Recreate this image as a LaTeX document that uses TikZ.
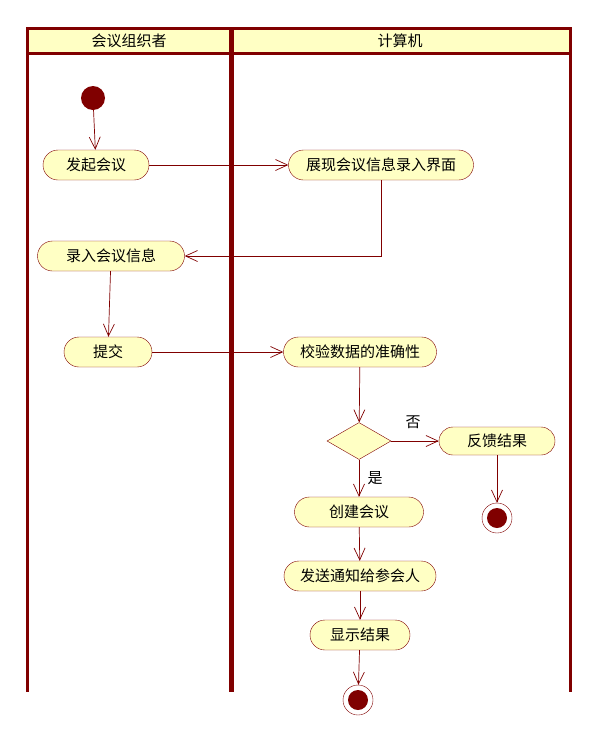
\documentclass[tikz,border=0pt]{standalone}
\usepackage{fontspec}
\setmainfont{Noto Sans CJK SC}
\usetikzlibrary{arrows.meta}
\usetikzlibrary{positioning}
\usetikzlibrary{shapes.geometric}
\definecolor{lane}{RGB}{128,0,0}
\definecolor{actfill}{RGB}{255,255,196}

\begin{document}
\begin{tikzpicture}
			[x=1pt,y=-1pt,font=\fontsize{15}{17}\selectfont,
			act/.style={draw=lane,fill=actfill,rounded corners=15pt,minimum height=30pt,inner sep=0pt},
			pd/.style={diamond,draw=lane,fill=actfill,minimum width=64pt,minimum height=37pt,inner sep=0pt},
			startnode/.style={circle,fill=lane,minimum size=24pt,inner sep=0pt},
			endnode/.style={circle,draw=lane,fill=white,minimum size=30pt,inner sep=0pt,
				path picture={\fill[lane] (path picture bounding box.center) circle (10pt);}},
			flow/.style={draw=lane,line width=0.7pt,-{Straight Barb[length=12pt,width=11pt]}},
			lanewall/.style={draw=lane,line width=3pt},
			laneinner/.style={draw=lane,line width=5pt}]
			\useasboundingbox (0,0) rectangle (599,745);
			
			% swimlanes
			\fill[actfill] (27,28) rectangle (570,53);
			\draw[lanewall] (27,28) -- (570,28);
			\draw[lanewall] (27,53) -- (570,53);
			\draw[lanewall] (27,27) -- (27,692);
			\draw[lanewall] (570,27) -- (570,692);
			\draw[laneinner] (231,27) -- (231,692);
			\node (h1) at (129,41) {会议组织者};
			\node (h2) at (400,41) {计算机};
			
			\node[startnode] (start) at (93,98) {};
			\node[act,minimum width=106pt] (faqi) at (96,165) {发起会议};
			\node[act,minimum width=185pt] (zhanxian) at (381,165) {展现会议信息录入界面};
			\node[act,minimum width=147pt] (luru) at (111,256) {录入会议信息};
			\node[act,minimum width=88pt] (tijiao) at (108,352) {提交};
			\node[act,minimum width=153pt] (jiaoyan) at (360,352) {校验数据的准确性};
			\node[pd] (pd) at (359,441) {};
			\node[act,minimum width=116pt,minimum height=28pt,rounded corners=14pt] (fankui) at (497,441) {反馈结果};
			\node[endnode] (end2) at (497,518) {};
			\node[act,minimum width=129pt] (chuangjian) at (359,512) {创建会议};
			\node[act,minimum width=152pt] (fasong) at (360,576) {发送通知给参会人};
			\node[act,minimum width=100pt] (xianshi) at (360,635) {显示结果};
			\node[endnode] (end1) at (358,700) {};
			\node (no) at (413,422) {否};
			\node (yes) at (375,478) {是};
			
			\foreach \from/\to in
			{start/faqi, faqi/zhanxian, luru/tijiao, tijiao/jiaoyan, jiaoyan/pd, pd/fankui,
			 pd/chuangjian, fankui/end2, chuangjian/fasong, fasong/xianshi, xianshi/end1}
			\draw[flow] (\from) -- (\to);
			\draw[flow] (zhanxian) |- (luru);
\end{tikzpicture}
\end{document}
